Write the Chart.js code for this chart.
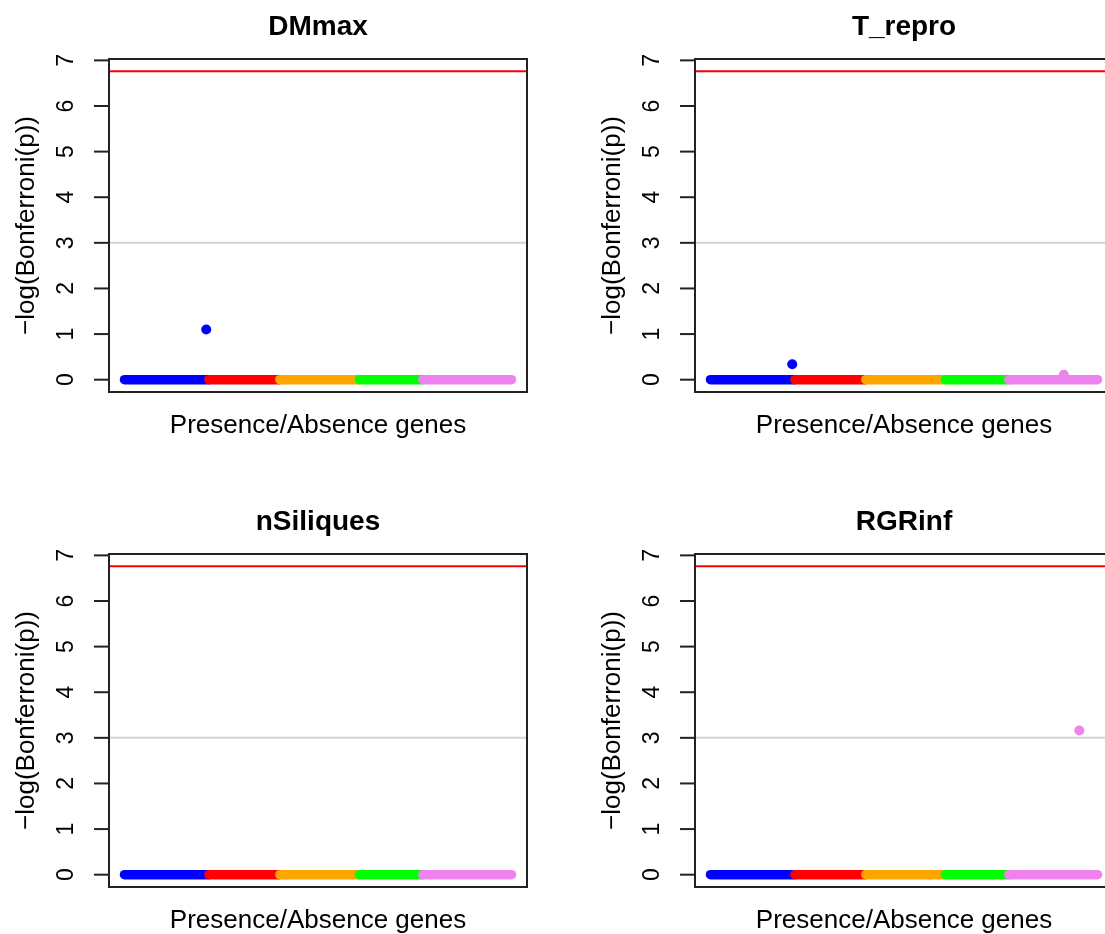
<!DOCTYPE html>
<html>
<head>
<meta charset="utf-8">
<script src="https://cdn.jsdelivr.net/npm/chart.js@4.4.0/dist/chart.umd.min.js"></script>
<style>
  html, body { margin: 0; padding: 0; background: #fff; overflow: hidden; width: 1105px; height: 934px; }
  .panel { position: absolute; }
</style>
</head>
<body>
<canvas id="p0" class="panel" width="586" height="495" style="left:0;top:0"></canvas>
<canvas id="p1" class="panel" width="586" height="495" style="left:586px;top:0"></canvas>
<canvas id="p2" class="panel" width="586" height="495" style="left:0;top:495px"></canvas>
<canvas id="p3" class="panel" width="586" height="495" style="left:586px;top:495px"></canvas>
<script>
// traits (one panel each)
const traits = ['DMmax', 'T_repro', 'nSiliques', 'RGRinf'];

// gene groups along the x axis (gene index)
const groupStart = [1, 219, 402, 607, 771];
const groupEnd = [218, 401, 606, 770, 1000];
const groupColors = ['#0000ff', '#ff0000', '#ffa500', '#00ff00', '#ee82ee'];

// genes that are above zero, per trait
const hitGene = [[212], [212, 913], [], [953]];
const hitScore = [[1.10], [0.34, 0.11], [], [3.16]];
const hitGroup = [[0], [0, 4], [], [4]];

const yTicks = [0, 1, 2, 3, 4, 5, 6, 7];
const bonferroniLine = 6.76;
const suggestLine = 3;

const xLabel = 'Presence/Absence genes';
const yLabel = '\u2212log(Bonferroni(p))';

const FONT = '"Liberation Sans", Arial, Helvetica, sans-serif';

// draws the R-like box, ticks, labels and abline's
const rFrame = {
  id: 'rFrame',
  beforeDatasetsDraw(chart) {
    const ctx = chart.ctx, a = chart.chartArea, y = chart.scales.y;
    ctx.save();
    ctx.lineWidth = 2;
    ctx.strokeStyle = '#d3d3d3';
    let py = y.getPixelForValue(suggestLine);
    ctx.beginPath(); ctx.moveTo(a.left, py); ctx.lineTo(a.right, py); ctx.stroke();
    ctx.strokeStyle = '#ff0000';
    ctx.lineWidth = 2;
    py = y.getPixelForValue(bonferroniLine);
    ctx.beginPath(); ctx.moveTo(a.left, py); ctx.lineTo(a.right, py); ctx.stroke();
    ctx.restore();
  },
  afterDraw(chart, args, opts) {
    const ctx = chart.ctx, a = chart.chartArea, y = chart.scales.y;
    ctx.save();
    ctx.strokeStyle = '#222';
    ctx.lineWidth = 2;
    ctx.strokeRect(a.left, a.top, a.right - a.left, a.bottom - a.top);

    ctx.fillStyle = '#000';
    ctx.font = '23px ' + FONT;
    ctx.textAlign = 'center';
    ctx.textBaseline = 'middle';
    yTicks.forEach(t => {
      const py = y.getPixelForValue(t);
      ctx.beginPath(); ctx.moveTo(a.left - 15, py); ctx.lineTo(a.left, py); ctx.stroke();
      ctx.save();
      ctx.translate(a.left - 42, py);
      ctx.rotate(-Math.PI / 2);
      ctx.fillText(String(t), 0, 0);
      ctx.restore();
    });

    const cx = (a.left + a.right) / 2;
    ctx.font = 'bold 28px ' + FONT;
    ctx.fillText(opts.title, cx, 27);

    ctx.font = '26px ' + FONT;
    ctx.fillText(xLabel, cx, a.bottom + 34);

    ctx.save();
    ctx.translate(27, (a.top + a.bottom) / 2);
    ctx.rotate(-Math.PI / 2);
    ctx.fillText(yLabel, 0, 0);
    ctx.restore();
    ctx.restore();
  }
};

traits.forEach((trait, i) => {
  const datasets = [];
  groupStart.forEach((s, g) => {
    datasets.push({
      label: 'group ' + (g + 1),
      data: [{ x: s, y: 0 }, { x: groupEnd[g], y: 0 }],
      showLine: true,
      borderColor: groupColors[g],
      backgroundColor: groupColors[g],
      borderWidth: 9.5,
      borderCapStyle: 'round',
      pointRadius: 0,
      order: 10 - g
    });
  });
  datasets.push({
    label: 'hits',
    data: hitGene[i].map((x, k) => ({ x: x, y: hitScore[i][k] })),
    pointBackgroundColor: hitGroup[i].map(g => groupColors[g]),
    pointBorderWidth: 0,
    pointRadius: 5,
    order: 0
  });

  new Chart(document.getElementById('p' + i), {
    type: 'scatter',
    data: { datasets: datasets },
    options: {
      responsive: false,
      devicePixelRatio: 1,
      animation: false,
      events: [],
      layout: { padding: { left: 109, right: 59, top: 59, bottom: 103 } },
      scales: {
        x: { type: 'linear', min: -39, max: 1040, display: false },
        y: { type: 'linear', min: -0.27, max: 7.03, display: false }
      },
      plugins: {
        legend: { display: false },
        tooltip: { enabled: false },
        rFrame: { title: trait }
      }
    },
    plugins: [rFrame]
  });
});
</script>
</body>
</html>
